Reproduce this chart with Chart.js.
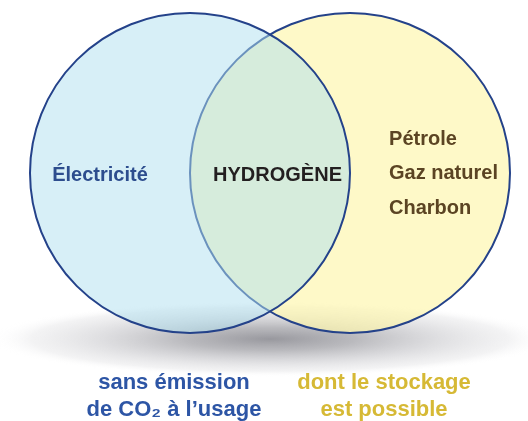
<!DOCTYPE html>
<html>
<head>
<meta charset="utf-8">
<script src="https://cdn.jsdelivr.net/npm/chart.js@4"></script>
<style>
html,body{margin:0;padding:0;background:#fff;}
#wrap{width:528px;height:421px;position:relative;}
</style>
</head>
<body>
<div id="wrap"><canvas id="c" width="528" height="421"></canvas></div>
<script>
// ---- data ----
const setIds = ['sansEmission', 'stockage'];
const circleX = [-0.5, 0.5];
const circleY = [0, 0];
const circleR = [1, 1];
const circleFill = ['rgba(176,224,239,0.51)', 'rgba(254,246,177,0.7)'];
const circleBorder = ['#24428a', '#24428a'];

const regionLines = [['Électricité'], ['HYDROGÈNE'], ['Pétrole', 'Gaz naturel', 'Charbon']];
const regionX = [-1.0625, 0.047, 0.744];
const regionY = [[-0.0125], [-0.0125], [0.2125, 0, -0.219]];
const regionAlign = ['center', 'center', 'left'];
const regionColor = ['#2d4d8e', '#231f20', '#5b4423'];

const captionLines = [['sans émission', 'de CO₂ à l’usage'], ['dont le stockage', 'est possible']];
const captionX = [-0.6, 0.7125];
const captionY = [-1.3125, -1.48125];
const captionColor = ['#2d55a5', '#d6b935'];

const xMin = -1.6875, xMax = 1.6125, yMin = -1.55, yMax = 1.08125;

const FONT = '"Liberation Sans", Arial, "DejaVu Sans", sans-serif';

const shadowPlugin = {
  id: 'shadow',
  beforeDatasetsDraw(chart) {
    const {ctx, scales: {x, y}} = chart;
    const cx = x.getPixelForValue(0.5 * (circleX[0] + circleX[1]));
    const cy = y.getPixelForValue(circleY[0] - circleR[0]) + 6;
    const rx = 280, ry = 38;
    ctx.save();
    ctx.translate(cx, cy);
    ctx.scale(1, ry / rx);
    const g = ctx.createRadialGradient(0, 0, 0, 0, 0, rx);
    g.addColorStop(0, 'rgba(152,152,158,1)');
    g.addColorStop(0.3, 'rgba(168,168,173,0.8)');
    g.addColorStop(0.6, 'rgba(190,190,195,0.5)');
    g.addColorStop(0.85, 'rgba(215,215,218,0.3)');
    g.addColorStop(1, 'rgba(255,255,255,0)');
    ctx.fillStyle = g;
    ctx.beginPath();
    ctx.arc(0, 0, rx, 0, Math.PI * 2);
    ctx.fill();
    ctx.restore();
  }
};

const textPlugin = {
  id: 'venntext',
  afterDatasetsDraw(chart) {
    const {ctx, scales: {x, y}} = chart;
    ctx.save();
    ctx.textBaseline = 'middle';
    ctx.font = 'bold 20px ' + FONT;
    regionLines.forEach((lines, i) => {
      ctx.fillStyle = regionColor[i];
      ctx.textAlign = regionAlign[i];
      lines.forEach((t, j) => {
        ctx.fillText(t, x.getPixelForValue(regionX[i]), y.getPixelForValue(regionY[i][j]));
      });
    });
    ctx.font = 'bold 22px ' + FONT;
    ctx.textAlign = 'center';
    captionLines.forEach((lines, i) => {
      ctx.fillStyle = captionColor[i];
      lines.forEach((t, j) => {
        ctx.fillText(t, x.getPixelForValue(captionX[i]), y.getPixelForValue(captionY[j]));
      });
    });
    ctx.restore();
  }
};

const datasets = setIds.map((id, i) => ({
  label: id,
  data: [{x: circleX[i], y: circleY[i], r: 1}],
  backgroundColor: circleFill[i],
  borderColor: circleBorder[i],
  borderWidth: 2,
  hoverRadius: 0,
  hoverBorderWidth: 0,
  order: i,
  clip: false
}));

const chart = new Chart(document.getElementById('c'), {
  type: 'bubble',
  data: {datasets},
  options: {
    responsive: false,
    animation: false,
    events: [],
    layout: {padding: 0, autoPadding: false},
    plugins: {legend: {display: false}, tooltip: {enabled: false}},
    scales: {
      x: {type: 'linear', min: xMin, max: xMax, display: false},
      y: {type: 'linear', min: yMin, max: yMax, display: false}
    }
  },
  plugins: [shadowPlugin, textPlugin]
});

// second pass: convert radii (data units) to pixels through the x scale
const sx = chart.scales.x;
chart.data.datasets.forEach((ds, i) => {
  ds.data[0].r = Math.abs(sx.getPixelForValue(circleR[i]) - sx.getPixelForValue(0));
});
chart.update();
</script>
</body>
</html>
